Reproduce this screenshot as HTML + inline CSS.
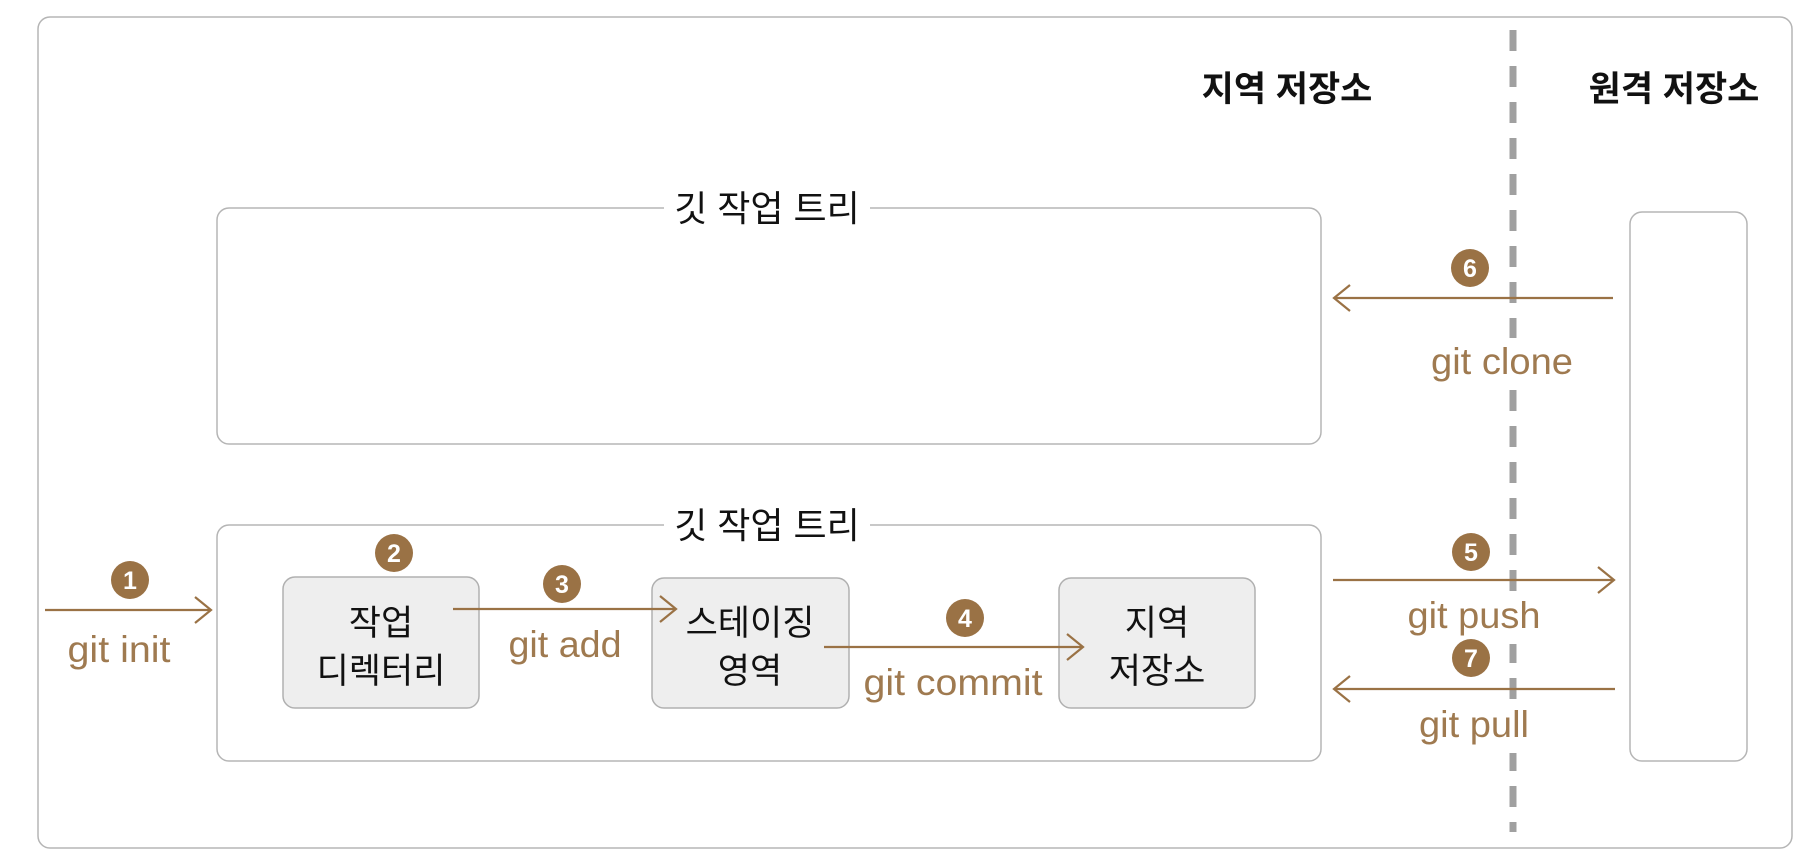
<!DOCTYPE html>
<html><head><meta charset="utf-8"><style>
html,body{margin:0;padding:0;background:#fff;}
svg{display:block;}
text{font-family:"Liberation Sans","Noto Sans CJK KR",sans-serif;}
.g{fill:#9f7a50;font-size:37px;text-anchor:middle;}
.k{fill:#111;font-size:35px;text-anchor:middle;}
.n{fill:#fff;font-size:25px;font-weight:bold;text-anchor:middle;}
</style></head><body>
<svg width="1820" height="868" viewBox="0 0 1820 868">
<defs>
<marker id="a" markerWidth="20" markerHeight="30" refX="18" refY="15" orient="auto" markerUnits="userSpaceOnUse">
<path d="M2,2 L18,15 L2,28" fill="none" stroke="#9a7245" stroke-width="2.2"/></marker>
</defs>
<rect x="38" y="17" width="1754" height="831" rx="12" fill="#fff" stroke="#b5b5b5" stroke-width="1.5"/>
<line x1="1513" y1="30" x2="1513" y2="832" stroke="#a0a0a0" stroke-width="7" stroke-dasharray="21,15"/>
<text x="1287" y="101" style="font-size:35px;font-weight:bold;text-anchor:middle;fill:#111">지역 저장소</text>
<text x="1674" y="101" style="font-size:35px;font-weight:bold;text-anchor:middle;fill:#111">원격 저장소</text>

<rect x="217" y="208" width="1104" height="236" rx="12" fill="#fff" stroke="#b5b5b5" stroke-width="1.5"/>
<rect x="664" y="195" width="206" height="30" fill="#fff"/>
<text class="k" x="767" y="221" style="font-size:36px">깃 작업 트리</text>

<rect x="217" y="525" width="1104" height="236" rx="12" fill="#fff" stroke="#b5b5b5" stroke-width="1.5"/>
<rect x="664" y="512" width="206" height="30" fill="#fff"/>
<text class="k" x="767" y="538" style="font-size:36px">깃 작업 트리</text>

<rect x="1630" y="212" width="117" height="549" rx="12" fill="#fff" stroke="#b5b5b5" stroke-width="1.5"/>

<rect x="283" y="577" width="196" height="131" rx="12" fill="#eeeeee" stroke="#b0b0b0" stroke-width="1.5"/>
<text class="k" x="381" y="635">작업</text><text class="k" x="381" y="683">디렉터리</text>
<rect x="652" y="578" width="197" height="130" rx="12" fill="#eeeeee" stroke="#b0b0b0" stroke-width="1.5"/>
<text class="k" x="750" y="635">스테이징</text><text class="k" x="750" y="683">영역</text>
<rect x="1059" y="578" width="196" height="130" rx="12" fill="#eeeeee" stroke="#b0b0b0" stroke-width="1.5"/>
<text class="k" x="1157" y="635">지역</text><text class="k" x="1157" y="683">저장소</text>

<g fill="#fff">
<rect x="1425" y="338" width="154" height="48"/>
<rect x="1402" y="598" width="144" height="46"/>
<rect x="1414" y="707" width="120" height="46"/>
</g>

<g stroke="#9a7245" stroke-width="2.2" fill="none">
<line x1="45" y1="610" x2="211" y2="610" marker-end="url(#a)"/>
<line x1="453" y1="609" x2="676" y2="609" marker-end="url(#a)"/>
<line x1="824" y1="647" x2="1083" y2="647" marker-end="url(#a)"/>
<line x1="1613" y1="298" x2="1334" y2="298" marker-end="url(#a)"/>
<line x1="1333" y1="580" x2="1614" y2="580" marker-end="url(#a)"/>
<line x1="1615" y1="689" x2="1334" y2="689" marker-end="url(#a)"/>
</g>

<g fill="#9a7245">
<circle cx="130" cy="580" r="19"/><circle cx="394" cy="553" r="19"/>
<circle cx="562" cy="584" r="19"/><circle cx="965" cy="618" r="19"/>
<circle cx="1471" cy="552" r="19"/><circle cx="1470" cy="268" r="19"/>
<circle cx="1471" cy="658" r="19"/>
</g>
<text class="n" x="130" y="589">1</text><text class="n" x="394" y="562">2</text>
<text class="n" x="562" y="593">3</text><text class="n" x="965" y="627">4</text>
<text class="n" x="1471" y="561">5</text><text class="n" x="1470" y="277">6</text>
<text class="n" x="1471" y="667">7</text>

<text class="g" x="119" y="662" textLength="103" lengthAdjust="spacingAndGlyphs">git init</text>
<text class="g" x="565" y="657" textLength="113" lengthAdjust="spacingAndGlyphs">git add</text>
<text class="g" x="953" y="695" textLength="179" lengthAdjust="spacingAndGlyphs">git commit</text>
<text class="g" x="1502" y="374" textLength="142" lengthAdjust="spacingAndGlyphs">git clone</text>
<text class="g" x="1474" y="628" textLength="133" lengthAdjust="spacingAndGlyphs">git push</text>
<text class="g" x="1474" y="737" textLength="110" lengthAdjust="spacingAndGlyphs">git pull</text>
</svg>
</body></html>
